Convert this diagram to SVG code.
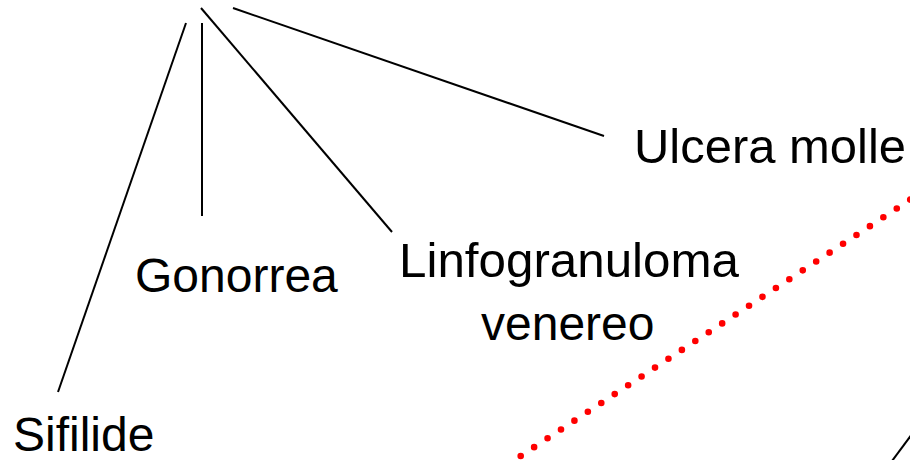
<svg xmlns="http://www.w3.org/2000/svg" width="910" height="460" viewBox="0 0 910 460">
  <style>
    .label { font-family: "Liberation Sans", Arial, sans-serif; font-size: 48px; fill: #000; }
    .link { stroke: #000; stroke-width: 2; fill: none; }
    .dotted { stroke: #ff0000; stroke-width: 6.6; stroke-linecap: round; stroke-dasharray: 0 16.08; fill: none; }
  </style>
  <rect width="910" height="460" fill="#fff"/>

  <g id="connectors">
    <line class="link" x1="186" y1="23" x2="58" y2="392"/>
    <line class="link" x1="202" y1="23" x2="202" y2="216"/>
    <line class="link" x1="201" y1="8" x2="392" y2="232"/>
    <line class="link" x1="233" y1="8" x2="604" y2="136"/>
    <line class="link" x1="892" y1="461" x2="912" y2="434"/>
    <line class="dotted" x1="520.7" y1="456" x2="940" y2="180"/>
  </g>

  <g id="node-ulcera">
    <text class="label" x="634" y="163" textLength="272" lengthAdjust="spacingAndGlyphs">Ulcera molle</text>
  </g>
  <g id="node-gonorrea">
    <text class="label" x="135" y="292">Gonorrea</text>
  </g>
  <g id="node-linfogranuloma">
    <text class="label" x="399" y="277" textLength="340" lengthAdjust="spacingAndGlyphs">Linfogranuloma</text>
    <text class="label" x="481" y="340">venereo</text>
  </g>
  <g id="node-sifilide">
    <text class="label" x="13" y="451">Sifilide</text>
  </g>
</svg>
